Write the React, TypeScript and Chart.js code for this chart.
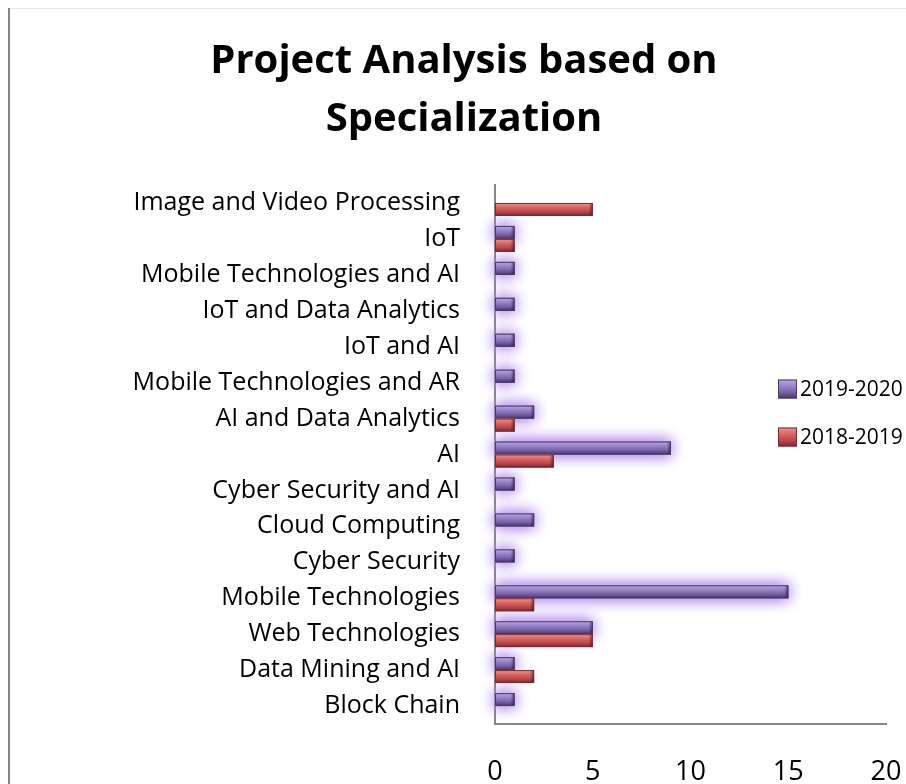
import React, { useEffect, useRef } from 'react';
import { Chart, registerables } from 'chart.js';

Chart.register(...registerables);

const categories = [
  'Image and Video Processing',
  'IoT',
  'Mobile Technologies and AI',
  'IoT and Data Analytics',
  'IoT and AI',
  'Mobile Technologies and AR',
  'AI and Data Analytics',
  'AI',
  'Cyber Security and AI',
  'Cloud Computing',
  'Cyber Security',
  'Mobile Technologies',
  'Web Technologies',
  'Data Mining and AI',
  'Block Chain',
];

const series2019_2020 = [0, 1, 1, 1, 1, 1, 2, 9, 1, 2, 1, 15, 5, 1, 1];
const series2018_2019 = [5, 1, 0, 0, 0, 0, 1, 3, 0, 0, 0, 2, 5, 2, 0];

const seriesNames = ['2019-2020', '2018-2019'];
const titleLines = ['Project Analysis based on', 'Specialization'];
const xMin = 0;
const xMax = 20;
const xStep = 5;

const FONT = '"Open Sans", "DejaVu Sans", sans-serif';

const PURPLE_STOPS: [number, string][] = [
  [0, '#b9a9e2'],
  [0.3, '#9c88cc'],
  [0.65, '#7a64ab'],
  [1, '#463566'],
];
const RED_STOPS: [number, string][] = [
  [0, '#f29391'],
  [0.35, '#d66664'],
  [0.7, '#b8464a'],
  [1, '#7a2430'],
];
const OUTLINES = ['#4a3a6a', '#7a2a30'];
const STOPS = [PURPLE_STOPS, RED_STOPS];

function vGrad(ctx: CanvasRenderingContext2D, top: number, bottom: number, stops: [number, string][]) {
  const g = ctx.createLinearGradient(0, top, 0, bottom);
  stops.forEach(([o, c]) => g.addColorStop(o, c));
  return g;
}

export default function App() {
  const ref = useRef<HTMLCanvasElement>(null);

  useEffect(() => {
    document.body.style.margin = '0';
    document.body.style.overflow = 'hidden';
    const canvas = ref.current;
    if (!canvas) return;

    const decor = {
      id: 'decor',
      beforeDraw(chart: any) {
        const ctx = chart.ctx as CanvasRenderingContext2D;
        ctx.save();
        ctx.fillStyle = '#ffffff';
        ctx.fillRect(0, 0, chart.width, chart.height);
        ctx.fillStyle = '#e6e6e6';
        ctx.fillRect(8, 8, chart.width - 8, 1);
        ctx.fillStyle = '#858585';
        ctx.fillRect(8, 8, 2, chart.height - 8);
        ctx.restore();
      },
      beforeDatasetsDraw(chart: any) {
        const ctx = chart.ctx as CanvasRenderingContext2D;
        const meta = chart.getDatasetMeta(0);
        const ds = chart.data.datasets[0];
        ctx.save();
        ctx.shadowColor = 'rgba(175, 135, 235, 1)';
        ctx.shadowBlur = 15;
        ctx.fillStyle = '#8c78c0';
        for (let pass = 0; pass < 2; pass++) {
          meta.data.forEach((el: any, j: number) => {
            if (!ds.data[j]) return;
            const p = el.getProps(['x', 'y', 'base', 'height'], true);
            const left = Math.min(p.x, p.base);
            const right = Math.max(p.x, p.base);
            ctx.fillRect(left, p.y - p.height / 2, right - left, p.height);
          });
        }
        ctx.restore();
      },
      afterDatasetsDraw(chart: any) {
        const ctx = chart.ctx as CanvasRenderingContext2D;
        ctx.save();
        chart.data.datasets.forEach((ds: any, di: number) => {
          const meta = chart.getDatasetMeta(di);
          meta.data.forEach((el: any, j: number) => {
            const v = ds.data[j];
            if (!v) return;
            const p = el.getProps(['x', 'y', 'base', 'height'], true);
            const left = Math.min(p.x, p.base);
            const right = Math.max(p.x, p.base);
            const top = p.y - p.height / 2;
            const bottom = p.y + p.height / 2;
            ctx.fillStyle = vGrad(ctx, top, bottom, STOPS[di]);
            ctx.fillRect(left, top, right - left, bottom - top);
            const cap = ctx.createLinearGradient(right - 4, 0, right, 0);
            cap.addColorStop(0, 'rgba(0,0,0,0)');
            cap.addColorStop(1, 'rgba(30,15,40,0.55)');
            ctx.fillStyle = cap;
            ctx.fillRect(right - 4, top, 4, bottom - top);
            ctx.strokeStyle = OUTLINES[di];
            ctx.lineWidth = 1;
            ctx.strokeRect(left + 0.5, top + 0.5, right - left - 1, bottom - top - 1);
          });
        });
        ctx.restore();
      },
      afterDraw(chart: any) {
        const ctx = chart.ctx as CanvasRenderingContext2D;
        ctx.save();
        ctx.fillStyle = '#000000';
        ctx.textAlign = 'center';
        ctx.textBaseline = 'alphabetic';
        ctx.font = `bold 40px ${FONT}`;
        titleLines.forEach((line, i) => {
          ctx.fillText(line, 464, 73 + i * 58);
        });
        ctx.font = `21px ${FONT}`;
        ctx.textAlign = 'left';
        ctx.textBaseline = 'middle';
        seriesNames.forEach((name, i) => {
          const cy = 389 + i * 48;
          const sx = 778;
          const sz = 19;
          const top = cy - sz / 2;
          ctx.fillStyle = vGrad(ctx, top, top + sz, STOPS[i]);
          ctx.fillRect(sx, top, sz, sz);
          ctx.strokeStyle = OUTLINES[i];
          ctx.lineWidth = 1;
          ctx.strokeRect(sx + 0.5, top + 0.5, sz - 1, sz - 1);
          ctx.fillStyle = '#000000';
          ctx.fillText(name, sx + 22, cy + 1);
        });
        ctx.restore();
      },
    };

    const chart = new Chart(canvas, {
      type: 'bar',
      data: {
        labels: categories,
        datasets: [
          {
            label: seriesNames[0],
            data: series2019_2020,
            backgroundColor: '#7a64ab',
            borderWidth: 0,
            categoryPercentage: 0.72,
            barPercentage: 1.0,
          },
          {
            label: seriesNames[1],
            data: series2018_2019,
            backgroundColor: '#c0504d',
            borderWidth: 0,
            categoryPercentage: 0.72,
            barPercentage: 1.0,
          },
        ],
      },
      options: {
        indexAxis: 'y',
        responsive: false,
        animation: false,
        devicePixelRatio: 1,
        layout: { padding: { top: 185, right: 20, bottom: 0, left: 0 } },
        plugins: {
          legend: { display: false },
          title: { display: false },
          tooltip: { enabled: false },
        },
        scales: {
          x: {
            min: xMin,
            max: xMax,
            ticks: {
              stepSize: xStep,
              padding: 24,
              color: '#000000',
              maxRotation: 0,
              font: { family: FONT, size: 27 },
            },
            grid: { display: false },
            border: { display: true, color: '#868686', width: 2 },
            afterFit(scale: any) {
              scale.height = 60;
              scale.paddingLeft = 0;
              scale.paddingRight = 0;
            },
          },
          y: {
            ticks: {
              padding: 27,
              color: '#000000',
              font: { family: FONT, size: 25 },
              autoSkip: false,
            },
            grid: { display: false },
            border: { display: true, color: '#868686', width: 2 },
            afterFit(scale: any) {
              scale.width = 495;
              scale.paddingTop = 0;
              scale.paddingBottom = 0;
            },
          },
        },
      },
      plugins: [decor],
    });

    return () => chart.destroy();
  }, []);

  return (
    <canvas
      ref={ref}
      width={906}
      height={784}
      style={{ display: 'block', width: 906, height: 784 }}
    />
  );
}
